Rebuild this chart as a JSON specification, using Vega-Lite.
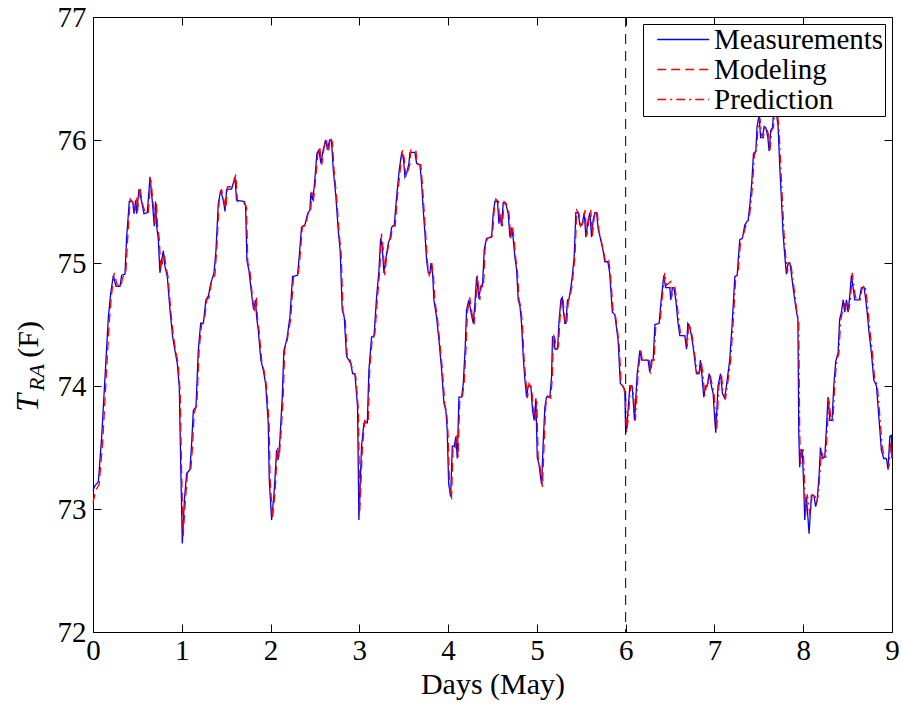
{
  "$schema": "https://vega.github.io/schema/vega-lite/v6.json",
  "width": 799,
  "height": 615,
  "autosize": "none",
  "padding": {"left": 93, "top": 17, "right": 11, "bottom": 76},
  "background": "white",
  "config": {
    "view": {"stroke": "black", "strokeWidth": 1},
    "font": "Liberation Serif",
    "axis": {
      "domainColor": "black", "tickColor": "black", "labelColor": "black", "titleColor": "black",
      "labelFont": "Liberation Serif", "titleFont": "Liberation Serif",
      "labelFontSize": 29, "titleFontSize": 30, "titleFontWeight": "normal",
      "grid": false, "tickSize": -8, "tickWidth": 1, "domainWidth": 1,
      "labelFlush": false, "labelOverlap": false
    }
  },
  "resolve": {"axis": {"x": "independent", "y": "independent"}},
  "layer": [
    {
      "data": {"values": [
        {"series":"Measurements","day":0.0,"T":73.15},{"series":"Measurements","day":0.022,"T":73.19},{"series":"Measurements","day":0.06,"T":73.22},{"series":"Measurements","day":0.098,"T":73.59},{"series":"Measurements","day":0.135,"T":74.07},{"series":"Measurements","day":0.173,"T":74.56},{"series":"Measurements","day":0.199,"T":74.75},{"series":"Measurements","day":0.229,"T":74.9},{"series":"Measurements","day":0.259,"T":74.81},{"series":"Measurements","day":0.304,"T":74.81},{"series":"Measurements","day":0.323,"T":74.9},{"series":"Measurements","day":0.36,"T":74.91},{"series":"Measurements","day":0.379,"T":75.21},{"series":"Measurements","day":0.409,"T":75.5},{"series":"Measurements","day":0.447,"T":75.5},{"series":"Measurements","day":0.462,"T":75.4},{"series":"Measurements","day":0.48,"T":75.51},{"series":"Measurements","day":0.492,"T":75.4},{"series":"Measurements","day":0.518,"T":75.6},{"series":"Measurements","day":0.548,"T":75.5},{"series":"Measurements","day":0.574,"T":75.4},{"series":"Measurements","day":0.612,"T":75.41},{"series":"Measurements","day":0.642,"T":75.7},{"series":"Measurements","day":0.668,"T":75.5},{"series":"Measurements","day":0.69,"T":75.3},{"series":"Measurements","day":0.705,"T":75.5},{"series":"Measurements","day":0.717,"T":75.3},{"series":"Measurements","day":0.736,"T":75.19},{"series":"Measurements","day":0.754,"T":74.92},{"series":"Measurements","day":0.773,"T":75.02},{"series":"Measurements","day":0.792,"T":75.1},{"series":"Measurements","day":0.811,"T":74.97},{"series":"Measurements","day":0.837,"T":74.89},{"series":"Measurements","day":0.867,"T":74.62},{"series":"Measurements","day":0.897,"T":74.4},{"series":"Measurements","day":0.923,"T":74.29},{"series":"Measurements","day":0.95,"T":74.18},{"series":"Measurements","day":0.972,"T":73.99},{"series":"Measurements","day":0.987,"T":73.4},{"series":"Measurements","day":1.006,"T":72.72},{"series":"Measurements","day":1.029,"T":73.07},{"series":"Measurements","day":1.055,"T":73.29},{"series":"Measurements","day":1.092,"T":73.32},{"series":"Measurements","day":1.111,"T":73.53},{"series":"Measurements","day":1.13,"T":73.8},{"series":"Measurements","day":1.16,"T":73.83},{"series":"Measurements","day":1.186,"T":74.29},{"series":"Measurements","day":1.213,"T":74.51},{"series":"Measurements","day":1.243,"T":74.51},{"series":"Measurements","day":1.272,"T":74.7},{"series":"Measurements","day":1.299,"T":74.73},{"series":"Measurements","day":1.325,"T":74.83},{"series":"Measurements","day":1.363,"T":74.92},{"series":"Measurements","day":1.385,"T":75.1},{"series":"Measurements","day":1.411,"T":75.48},{"series":"Measurements","day":1.438,"T":75.59},{"series":"Measurements","day":1.468,"T":75.51},{"series":"Measurements","day":1.487,"T":75.42},{"series":"Measurements","day":1.505,"T":75.6},{"series":"Measurements","day":1.516,"T":75.6},{"series":"Measurements","day":1.561,"T":75.6},{"series":"Measurements","day":1.58,"T":75.65},{"series":"Measurements","day":1.599,"T":75.7},{"series":"Measurements","day":1.617,"T":75.51},{"series":"Measurements","day":1.704,"T":75.5},{"series":"Measurements","day":1.719,"T":75.46},{"series":"Measurements","day":1.734,"T":75.02},{"series":"Measurements","day":1.756,"T":74.94},{"series":"Measurements","day":1.786,"T":74.75},{"series":"Measurements","day":1.809,"T":74.62},{"series":"Measurements","day":1.831,"T":74.7},{"series":"Measurements","day":1.843,"T":74.56},{"series":"Measurements","day":1.861,"T":74.46},{"series":"Measurements","day":1.891,"T":74.21},{"series":"Measurements","day":1.918,"T":74.13},{"series":"Measurements","day":1.944,"T":74.02},{"series":"Measurements","day":1.974,"T":73.7},{"series":"Measurements","day":1.985,"T":73.24},{"series":"Measurements","day":2.012,"T":72.91},{"series":"Measurements","day":2.042,"T":73.15},{"series":"Measurements","day":2.068,"T":73.48},{"series":"Measurements","day":2.087,"T":73.4},{"series":"Measurements","day":2.105,"T":73.56},{"series":"Measurements","day":2.132,"T":73.91},{"series":"Measurements","day":2.15,"T":74.29},{"series":"Measurements","day":2.173,"T":74.35},{"series":"Measurements","day":2.188,"T":74.4},{"series":"Measurements","day":2.218,"T":74.56},{"series":"Measurements","day":2.248,"T":74.89},{"series":"Measurements","day":2.304,"T":74.9},{"series":"Measurements","day":2.319,"T":75.02},{"series":"Measurements","day":2.349,"T":75.29},{"series":"Measurements","day":2.387,"T":75.31},{"series":"Measurements","day":2.417,"T":75.4},{"series":"Measurements","day":2.443,"T":75.43},{"series":"Measurements","day":2.454,"T":75.57},{"series":"Measurements","day":2.473,"T":75.51},{"series":"Measurements","day":2.492,"T":75.62},{"series":"Measurements","day":2.522,"T":75.89},{"series":"Measurements","day":2.545,"T":75.92},{"series":"Measurements","day":2.567,"T":75.81},{"series":"Measurements","day":2.593,"T":75.92},{"series":"Measurements","day":2.62,"T":76.0},{"series":"Measurements","day":2.642,"T":75.92},{"series":"Measurements","day":2.665,"T":76.0},{"series":"Measurements","day":2.687,"T":75.99},{"series":"Measurements","day":2.706,"T":75.76},{"series":"Measurements","day":2.736,"T":75.54},{"series":"Measurements","day":2.762,"T":75.27},{"series":"Measurements","day":2.785,"T":75.09},{"series":"Measurements","day":2.807,"T":74.62},{"series":"Measurements","day":2.83,"T":74.56},{"series":"Measurements","day":2.856,"T":74.24},{"series":"Measurements","day":2.882,"T":74.21},{"series":"Measurements","day":2.905,"T":74.18},{"series":"Measurements","day":2.924,"T":74.1},{"series":"Measurements","day":2.95,"T":74.1},{"series":"Measurements","day":2.98,"T":73.83},{"series":"Measurements","day":2.995,"T":72.91},{"series":"Measurements","day":3.025,"T":73.51},{"series":"Measurements","day":3.052,"T":73.7},{"series":"Measurements","day":3.09,"T":73.7},{"series":"Measurements","day":3.108,"T":74.13},{"series":"Measurements","day":3.138,"T":74.4},{"series":"Measurements","day":3.165,"T":74.4},{"series":"Measurements","day":3.195,"T":74.73},{"series":"Measurements","day":3.221,"T":74.94},{"series":"Measurements","day":3.24,"T":75.2},{"series":"Measurements","day":3.258,"T":75.13},{"series":"Measurements","day":3.277,"T":74.92},{"series":"Measurements","day":3.296,"T":75.02},{"series":"Measurements","day":3.326,"T":75.16},{"series":"Measurements","day":3.345,"T":75.2},{"series":"Measurements","day":3.364,"T":75.29},{"series":"Measurements","day":3.394,"T":75.31},{"series":"Measurements","day":3.42,"T":75.54},{"series":"Measurements","day":3.45,"T":75.76},{"series":"Measurements","day":3.476,"T":75.89},{"series":"Measurements","day":3.495,"T":75.86},{"series":"Measurements","day":3.514,"T":75.7},{"series":"Measurements","day":3.533,"T":75.73},{"series":"Measurements","day":3.559,"T":75.81},{"series":"Measurements","day":3.57,"T":75.9},{"series":"Measurements","day":3.626,"T":75.9},{"series":"Measurements","day":3.645,"T":75.81},{"series":"Measurements","day":3.683,"T":75.8},{"series":"Measurements","day":3.701,"T":75.65},{"series":"Measurements","day":3.72,"T":75.43},{"series":"Measurements","day":3.739,"T":75.24},{"series":"Measurements","day":3.758,"T":75.02},{"series":"Measurements","day":3.777,"T":74.92},{"series":"Measurements","day":3.795,"T":74.92},{"series":"Measurements","day":3.807,"T":75.0},{"series":"Measurements","day":3.825,"T":74.92},{"series":"Measurements","day":3.84,"T":74.7},{"series":"Measurements","day":3.87,"T":74.56},{"series":"Measurements","day":3.9,"T":74.35},{"series":"Measurements","day":3.927,"T":74.13},{"series":"Measurements","day":3.953,"T":73.86},{"series":"Measurements","day":3.975,"T":73.8},{"series":"Measurements","day":3.99,"T":73.64},{"series":"Measurements","day":4.006,"T":73.21},{"series":"Measurements","day":4.028,"T":73.1},{"series":"Measurements","day":4.047,"T":73.51},{"series":"Measurements","day":4.069,"T":73.51},{"series":"Measurements","day":4.088,"T":73.59},{"series":"Measurements","day":4.103,"T":73.41},{"series":"Measurements","day":4.122,"T":73.91},{"series":"Measurements","day":4.152,"T":73.91},{"series":"Measurements","day":4.171,"T":74.02},{"series":"Measurements","day":4.193,"T":74.32},{"series":"Measurements","day":4.208,"T":74.62},{"series":"Measurements","day":4.234,"T":74.7},{"series":"Measurements","day":4.257,"T":74.6},{"series":"Measurements","day":4.283,"T":74.51},{"series":"Measurements","day":4.302,"T":74.67},{"series":"Measurements","day":4.321,"T":74.89},{"series":"Measurements","day":4.347,"T":74.71},{"series":"Measurements","day":4.366,"T":74.81},{"series":"Measurements","day":4.388,"T":74.82},{"series":"Measurements","day":4.407,"T":75.11},{"series":"Measurements","day":4.433,"T":75.2},{"series":"Measurements","day":4.49,"T":75.21},{"series":"Measurements","day":4.508,"T":75.4},{"series":"Measurements","day":4.527,"T":75.5},{"series":"Measurements","day":4.557,"T":75.5},{"series":"Measurements","day":4.572,"T":75.32},{"series":"Measurements","day":4.587,"T":75.39},{"series":"Measurements","day":4.602,"T":75.3},{"series":"Measurements","day":4.621,"T":75.49},{"series":"Measurements","day":4.647,"T":75.49},{"series":"Measurements","day":4.677,"T":75.4},{"series":"Measurements","day":4.696,"T":75.21},{"series":"Measurements","day":4.715,"T":75.29},{"series":"Measurements","day":4.733,"T":75.2},{"series":"Measurements","day":4.752,"T":75.05},{"series":"Measurements","day":4.771,"T":74.95},{"series":"Measurements","day":4.79,"T":74.7},{"series":"Measurements","day":4.809,"T":74.65},{"series":"Measurements","day":4.827,"T":74.51},{"series":"Measurements","day":4.846,"T":74.24},{"series":"Measurements","day":4.865,"T":74.05},{"series":"Measurements","day":4.884,"T":73.91},{"series":"Measurements","day":4.902,"T":74.0},{"series":"Measurements","day":4.932,"T":74.0},{"series":"Measurements","day":4.951,"T":73.8},{"series":"Measurements","day":4.97,"T":73.72},{"series":"Measurements","day":4.989,"T":73.9},{"series":"Measurements","day":5.004,"T":73.42},{"series":"Measurements","day":5.022,"T":73.37},{"series":"Measurements","day":5.041,"T":73.26},{"series":"Measurements","day":5.053,"T":73.2},{"series":"Measurements","day":5.071,"T":73.54},{"series":"Measurements","day":5.09,"T":73.83},{"series":"Measurements","day":5.109,"T":73.91},{"series":"Measurements","day":5.146,"T":73.91},{"series":"Measurements","day":5.165,"T":74.07},{"series":"Measurements","day":5.176,"T":74.4},{"series":"Measurements","day":5.195,"T":74.4},{"series":"Measurements","day":5.203,"T":74.3},{"series":"Measurements","day":5.233,"T":74.3},{"series":"Measurements","day":5.248,"T":74.51},{"series":"Measurements","day":5.27,"T":74.7},{"series":"Measurements","day":5.285,"T":74.72},{"series":"Measurements","day":5.3,"T":74.6},{"series":"Measurements","day":5.315,"T":74.51},{"series":"Measurements","day":5.327,"T":74.51},{"series":"Measurements","day":5.345,"T":74.7},{"series":"Measurements","day":5.36,"T":74.7},{"series":"Measurements","day":5.383,"T":74.8},{"series":"Measurements","day":5.398,"T":74.89},{"series":"Measurements","day":5.42,"T":75.05},{"series":"Measurements","day":5.439,"T":75.41},{"series":"Measurements","day":5.465,"T":75.41},{"series":"Measurements","day":5.484,"T":75.31},{"series":"Measurements","day":5.51,"T":75.31},{"series":"Measurements","day":5.533,"T":75.41},{"series":"Measurements","day":5.552,"T":75.21},{"series":"Measurements","day":5.578,"T":75.35},{"series":"Measurements","day":5.597,"T":75.41},{"series":"Measurements","day":5.616,"T":75.21},{"series":"Measurements","day":5.634,"T":75.35},{"series":"Measurements","day":5.653,"T":75.41},{"series":"Measurements","day":5.672,"T":75.41},{"series":"Measurements","day":5.69,"T":75.28},{"series":"Measurements","day":5.709,"T":75.22},{"series":"Measurements","day":5.746,"T":75.1},{"series":"Measurements","day":5.765,"T":75.01},{"series":"Measurements","day":5.8,"T":75.01},{"series":"Measurements","day":5.82,"T":74.92},{"series":"Measurements","day":5.85,"T":74.6},{"series":"Measurements","day":5.878,"T":74.58},{"series":"Measurements","day":5.915,"T":74.37},{"series":"Measurements","day":5.94,"T":74.02},{"series":"Measurements","day":5.97,"T":74.0},{"series":"Measurements","day":5.99,"T":73.97},{"series":"Measurements","day":6.0,"T":73.62},{"series":"Measurements","day":6.017,"T":73.7},{"series":"Measurements","day":6.047,"T":74.0},{"series":"Measurements","day":6.073,"T":74.0},{"series":"Measurements","day":6.1,"T":73.72},{"series":"Measurements","day":6.13,"T":74.1},{"series":"Measurements","day":6.16,"T":74.29},{"series":"Measurements","day":6.18,"T":74.21},{"series":"Measurements","day":6.253,"T":74.21},{"series":"Measurements","day":6.272,"T":74.11},{"series":"Measurements","day":6.29,"T":74.21},{"series":"Measurements","day":6.31,"T":74.21},{"series":"Measurements","day":6.33,"T":74.5},{"series":"Measurements","day":6.377,"T":74.51},{"series":"Measurements","day":6.4,"T":74.7},{"series":"Measurements","day":6.43,"T":74.9},{"series":"Measurements","day":6.45,"T":74.8},{"series":"Measurements","day":6.497,"T":74.8},{"series":"Measurements","day":6.508,"T":74.7},{"series":"Measurements","day":6.527,"T":74.8},{"series":"Measurements","day":6.542,"T":74.8},{"series":"Measurements","day":6.565,"T":74.7},{"series":"Measurements","day":6.59,"T":74.51},{"series":"Measurements","day":6.61,"T":74.41},{"series":"Measurements","day":6.666,"T":74.41},{"series":"Measurements","day":6.685,"T":74.3},{"series":"Measurements","day":6.7,"T":74.51},{"series":"Measurements","day":6.72,"T":74.49},{"series":"Measurements","day":6.74,"T":74.41},{"series":"Measurements","day":6.76,"T":74.32},{"series":"Measurements","day":6.797,"T":74.1},{"series":"Measurements","day":6.827,"T":74.1},{"series":"Measurements","day":6.842,"T":74.21},{"series":"Measurements","day":6.86,"T":74.08},{"series":"Measurements","day":6.88,"T":73.91},{"series":"Measurements","day":6.9,"T":74.0},{"series":"Measurements","day":6.918,"T":74.0},{"series":"Measurements","day":6.94,"T":74.1},{"series":"Measurements","day":6.966,"T":74.0},{"series":"Measurements","day":6.985,"T":73.94},{"series":"Measurements","day":7.004,"T":73.72},{"series":"Measurements","day":7.015,"T":73.62},{"series":"Measurements","day":7.04,"T":74.0},{"series":"Measurements","day":7.068,"T":74.1},{"series":"Measurements","day":7.09,"T":73.94},{"series":"Measurements","day":7.116,"T":73.9},{"series":"Measurements","day":7.135,"T":74.0},{"series":"Measurements","day":7.172,"T":74.21},{"series":"Measurements","day":7.2,"T":74.51},{"series":"Measurements","day":7.23,"T":74.89},{"series":"Measurements","day":7.256,"T":74.9},{"series":"Measurements","day":7.285,"T":75.19},{"series":"Measurements","day":7.315,"T":75.2},{"series":"Measurements","day":7.342,"T":75.31},{"series":"Measurements","day":7.38,"T":75.35},{"series":"Measurements","day":7.4,"T":75.48},{"series":"Measurements","day":7.42,"T":75.65},{"series":"Measurements","day":7.44,"T":75.89},{"series":"Measurements","day":7.466,"T":75.91},{"series":"Measurements","day":7.48,"T":76.11},{"series":"Measurements","day":7.503,"T":76.2},{"series":"Measurements","day":7.52,"T":76.02},{"series":"Measurements","day":7.54,"T":76.02},{"series":"Measurements","day":7.56,"T":76.11},{"series":"Measurements","day":7.578,"T":76.1},{"series":"Measurements","day":7.6,"T":76.03},{"series":"Measurements","day":7.616,"T":75.91},{"series":"Measurements","day":7.635,"T":76.08},{"series":"Measurements","day":7.654,"T":76.1},{"series":"Measurements","day":7.668,"T":76.24},{"series":"Measurements","day":7.69,"T":76.27},{"series":"Measurements","day":7.717,"T":76.11},{"series":"Measurements","day":7.736,"T":75.78},{"series":"Measurements","day":7.755,"T":75.51},{"series":"Measurements","day":7.773,"T":75.24},{"series":"Measurements","day":7.79,"T":75.08},{"series":"Measurements","day":7.81,"T":74.91},{"series":"Measurements","day":7.83,"T":75.0},{"series":"Measurements","day":7.85,"T":75.0},{"series":"Measurements","day":7.867,"T":74.91},{"series":"Measurements","day":7.886,"T":74.8},{"series":"Measurements","day":7.916,"T":74.64},{"series":"Measurements","day":7.94,"T":74.54},{"series":"Measurements","day":7.95,"T":73.62},{"series":"Measurements","day":7.96,"T":73.34},{"series":"Measurements","day":7.976,"T":73.48},{"series":"Measurements","day":7.99,"T":73.48},{"series":"Measurements","day":8.006,"T":73.18},{"series":"Measurements","day":8.017,"T":72.91},{"series":"Measurements","day":8.036,"T":73.1},{"series":"Measurements","day":8.066,"T":72.8},{"series":"Measurements","day":8.092,"T":73.11},{"series":"Measurements","day":8.12,"T":73.11},{"series":"Measurements","day":8.14,"T":73.02},{"series":"Measurements","day":8.157,"T":73.07},{"series":"Measurements","day":8.18,"T":73.29},{"series":"Measurements","day":8.194,"T":73.5},{"series":"Measurements","day":8.216,"T":73.41},{"series":"Measurements","day":8.243,"T":73.42},{"series":"Measurements","day":8.26,"T":73.64},{"series":"Measurements","day":8.28,"T":73.91},{"series":"Measurements","day":8.3,"T":73.72},{"series":"Measurements","day":8.325,"T":73.72},{"series":"Measurements","day":8.344,"T":74.0},{"series":"Measurements","day":8.366,"T":74.2},{"series":"Measurements","day":8.393,"T":74.27},{"series":"Measurements","day":8.41,"T":74.54},{"series":"Measurements","day":8.43,"T":74.6},{"series":"Measurements","day":8.45,"T":74.7},{"series":"Measurements","day":8.468,"T":74.6},{"series":"Measurements","day":8.487,"T":74.7},{"series":"Measurements","day":8.505,"T":74.6},{"series":"Measurements","day":8.524,"T":74.73},{"series":"Measurements","day":8.543,"T":74.9},{"series":"Measurements","day":8.562,"T":74.8},{"series":"Measurements","day":8.58,"T":74.7},{"series":"Measurements","day":8.63,"T":74.7},{"series":"Measurements","day":8.656,"T":74.8},{"series":"Measurements","day":8.686,"T":74.8},{"series":"Measurements","day":8.705,"T":74.7},{"series":"Measurements","day":8.72,"T":74.6},{"series":"Measurements","day":8.742,"T":74.43},{"series":"Measurements","day":8.768,"T":74.27},{"series":"Measurements","day":8.795,"T":74.05},{"series":"Measurements","day":8.825,"T":74.0},{"series":"Measurements","day":8.855,"T":73.72},{"series":"Measurements","day":8.88,"T":73.48},{"series":"Measurements","day":8.907,"T":73.41},{"series":"Measurements","day":8.937,"T":73.41},{"series":"Measurements","day":8.956,"T":73.32},{"series":"Measurements","day":8.975,"T":73.59},{"series":"Measurements","day":8.993,"T":73.6},{"series":"Measurements","day":9.0,"T":73.41},
        {"series":"Modeling","day":0.0,"T":73.05},{"series":"Modeling","day":0.03,"T":73.15},{"series":"Modeling","day":0.07,"T":73.2},{"series":"Modeling","day":0.11,"T":73.55},{"series":"Modeling","day":0.145,"T":74.02},{"series":"Modeling","day":0.183,"T":74.52},{"series":"Modeling","day":0.209,"T":74.74},{"series":"Modeling","day":0.239,"T":74.92},{"series":"Modeling","day":0.269,"T":74.83},{"series":"Modeling","day":0.314,"T":74.8},{"series":"Modeling","day":0.333,"T":74.88},{"series":"Modeling","day":0.37,"T":74.92},{"series":"Modeling","day":0.389,"T":75.18},{"series":"Modeling","day":0.419,"T":75.52},{"series":"Modeling","day":0.457,"T":75.48},{"series":"Modeling","day":0.472,"T":75.42},{"series":"Modeling","day":0.49,"T":75.53},{"series":"Modeling","day":0.502,"T":75.42},{"series":"Modeling","day":0.528,"T":75.62},{"series":"Modeling","day":0.558,"T":75.48},{"series":"Modeling","day":0.584,"T":75.42},{"series":"Modeling","day":0.622,"T":75.4},{"series":"Modeling","day":0.652,"T":75.68},{"series":"Modeling","day":0.678,"T":75.48},{"series":"Modeling","day":0.7,"T":75.32},{"series":"Modeling","day":0.715,"T":75.48},{"series":"Modeling","day":0.727,"T":75.3},{"series":"Modeling","day":0.746,"T":75.2},{"series":"Modeling","day":0.764,"T":74.95},{"series":"Modeling","day":0.783,"T":75.0},{"series":"Modeling","day":0.802,"T":75.08},{"series":"Modeling","day":0.821,"T":74.98},{"series":"Modeling","day":0.847,"T":74.88},{"series":"Modeling","day":0.877,"T":74.6},{"series":"Modeling","day":0.907,"T":74.4},{"series":"Modeling","day":0.933,"T":74.28},{"series":"Modeling","day":0.96,"T":74.18},{"series":"Modeling","day":0.982,"T":73.95},{"series":"Modeling","day":0.997,"T":73.35},{"series":"Modeling","day":1.016,"T":72.78},{"series":"Modeling","day":1.039,"T":73.05},{"series":"Modeling","day":1.065,"T":73.3},{"series":"Modeling","day":1.102,"T":73.32},{"series":"Modeling","day":1.121,"T":73.5},{"series":"Modeling","day":1.14,"T":73.78},{"series":"Modeling","day":1.17,"T":73.85},{"series":"Modeling","day":1.196,"T":74.3},{"series":"Modeling","day":1.223,"T":74.5},{"series":"Modeling","day":1.253,"T":74.52},{"series":"Modeling","day":1.282,"T":74.7},{"series":"Modeling","day":1.309,"T":74.72},{"series":"Modeling","day":1.335,"T":74.85},{"series":"Modeling","day":1.373,"T":74.9},{"series":"Modeling","day":1.395,"T":75.12},{"series":"Modeling","day":1.421,"T":75.5},{"series":"Modeling","day":1.448,"T":75.6},{"series":"Modeling","day":1.478,"T":75.5},{"series":"Modeling","day":1.497,"T":75.44},{"series":"Modeling","day":1.515,"T":75.62},{"series":"Modeling","day":1.571,"T":75.62},{"series":"Modeling","day":1.59,"T":75.66},{"series":"Modeling","day":1.609,"T":75.72},{"series":"Modeling","day":1.627,"T":75.5},{"series":"Modeling","day":1.714,"T":75.48},{"series":"Modeling","day":1.729,"T":75.45},{"series":"Modeling","day":1.744,"T":75.0},{"series":"Modeling","day":1.766,"T":74.95},{"series":"Modeling","day":1.796,"T":74.72},{"series":"Modeling","day":1.819,"T":74.6},{"series":"Modeling","day":1.841,"T":74.72},{"series":"Modeling","day":1.853,"T":74.55},{"series":"Modeling","day":1.871,"T":74.45},{"series":"Modeling","day":1.901,"T":74.2},{"series":"Modeling","day":1.928,"T":74.12},{"series":"Modeling","day":1.954,"T":74.0},{"series":"Modeling","day":1.984,"T":73.7},{"series":"Modeling","day":1.995,"T":73.25},{"series":"Modeling","day":2.022,"T":72.92},{"series":"Modeling","day":2.052,"T":73.15},{"series":"Modeling","day":2.078,"T":73.5},{"series":"Modeling","day":2.097,"T":73.42},{"series":"Modeling","day":2.115,"T":73.58},{"series":"Modeling","day":2.142,"T":73.9},{"series":"Modeling","day":2.16,"T":74.3},{"series":"Modeling","day":2.183,"T":74.35},{"series":"Modeling","day":2.198,"T":74.42},{"series":"Modeling","day":2.228,"T":74.55},{"series":"Modeling","day":2.258,"T":74.88},{"series":"Modeling","day":2.314,"T":74.92},{"series":"Modeling","day":2.329,"T":75.02},{"series":"Modeling","day":2.359,"T":75.3},{"series":"Modeling","day":2.397,"T":75.3},{"series":"Modeling","day":2.427,"T":75.42},{"series":"Modeling","day":2.453,"T":75.42},{"series":"Modeling","day":2.464,"T":75.58},{"series":"Modeling","day":2.483,"T":75.5},{"series":"Modeling","day":2.502,"T":75.64},{"series":"Modeling","day":2.532,"T":75.88},{"series":"Modeling","day":2.555,"T":75.94},{"series":"Modeling","day":2.577,"T":75.8},{"series":"Modeling","day":2.603,"T":75.94},{"series":"Modeling","day":2.63,"T":76.0},{"series":"Modeling","day":2.652,"T":75.9},{"series":"Modeling","day":2.675,"T":76.02},{"series":"Modeling","day":2.697,"T":75.98},{"series":"Modeling","day":2.716,"T":75.75},{"series":"Modeling","day":2.746,"T":75.52},{"series":"Modeling","day":2.772,"T":75.25},{"series":"Modeling","day":2.795,"T":75.08},{"series":"Modeling","day":2.817,"T":74.6},{"series":"Modeling","day":2.84,"T":74.56},{"series":"Modeling","day":2.866,"T":74.22},{"series":"Modeling","day":2.892,"T":74.22},{"series":"Modeling","day":2.915,"T":74.16},{"series":"Modeling","day":2.934,"T":74.1},{"series":"Modeling","day":2.96,"T":74.08},{"series":"Modeling","day":2.99,"T":73.8},{"series":"Modeling","day":3.005,"T":72.98},{"series":"Modeling","day":3.035,"T":73.5},{"series":"Modeling","day":3.062,"T":73.72},{"series":"Modeling","day":3.1,"T":73.7},{"series":"Modeling","day":3.118,"T":74.15},{"series":"Modeling","day":3.148,"T":74.4},{"series":"Modeling","day":3.175,"T":74.42},{"series":"Modeling","day":3.205,"T":74.72},{"series":"Modeling","day":3.231,"T":74.95},{"series":"Modeling","day":3.25,"T":75.24},{"series":"Modeling","day":3.268,"T":75.12},{"series":"Modeling","day":3.287,"T":74.9},{"series":"Modeling","day":3.306,"T":75.04},{"series":"Modeling","day":3.336,"T":75.18},{"series":"Modeling","day":3.355,"T":75.2},{"series":"Modeling","day":3.374,"T":75.3},{"series":"Modeling","day":3.404,"T":75.3},{"series":"Modeling","day":3.43,"T":75.55},{"series":"Modeling","day":3.46,"T":75.75},{"series":"Modeling","day":3.486,"T":75.92},{"series":"Modeling","day":3.505,"T":75.85},{"series":"Modeling","day":3.524,"T":75.7},{"series":"Modeling","day":3.543,"T":75.74},{"series":"Modeling","day":3.569,"T":75.8},{"series":"Modeling","day":3.58,"T":75.92},{"series":"Modeling","day":3.636,"T":75.92},{"series":"Modeling","day":3.655,"T":75.8},{"series":"Modeling","day":3.693,"T":75.8},{"series":"Modeling","day":3.711,"T":75.64},{"series":"Modeling","day":3.73,"T":75.42},{"series":"Modeling","day":3.749,"T":75.22},{"series":"Modeling","day":3.768,"T":75.0},{"series":"Modeling","day":3.787,"T":74.9},{"series":"Modeling","day":3.805,"T":74.93},{"series":"Modeling","day":3.817,"T":75.0},{"series":"Modeling","day":3.835,"T":74.9},{"series":"Modeling","day":3.85,"T":74.7},{"series":"Modeling","day":3.88,"T":74.55},{"series":"Modeling","day":3.91,"T":74.33},{"series":"Modeling","day":3.937,"T":74.12},{"series":"Modeling","day":3.963,"T":73.85},{"series":"Modeling","day":3.985,"T":73.78},{"series":"Modeling","day":4.0,"T":73.6},{"series":"Modeling","day":4.016,"T":73.18},{"series":"Modeling","day":4.038,"T":73.08},{"series":"Modeling","day":4.057,"T":73.52},{"series":"Modeling","day":4.079,"T":73.5},{"series":"Modeling","day":4.098,"T":73.6},{"series":"Modeling","day":4.113,"T":73.42},{"series":"Modeling","day":4.132,"T":73.9},{"series":"Modeling","day":4.162,"T":73.92},{"series":"Modeling","day":4.181,"T":74.02},{"series":"Modeling","day":4.203,"T":74.33},{"series":"Modeling","day":4.218,"T":74.6},{"series":"Modeling","day":4.244,"T":74.72},{"series":"Modeling","day":4.267,"T":74.6},{"series":"Modeling","day":4.293,"T":74.5},{"series":"Modeling","day":4.312,"T":74.68},{"series":"Modeling","day":4.331,"T":74.9},{"series":"Modeling","day":4.357,"T":74.7},{"series":"Modeling","day":4.376,"T":74.82},{"series":"Modeling","day":4.398,"T":74.8},{"series":"Modeling","day":4.417,"T":75.12},{"series":"Modeling","day":4.443,"T":75.2},{"series":"Modeling","day":4.5,"T":75.22},{"series":"Modeling","day":4.518,"T":75.42},{"series":"Modeling","day":4.537,"T":75.52},{"series":"Modeling","day":4.567,"T":75.5},{"series":"Modeling","day":4.582,"T":75.33},{"series":"Modeling","day":4.597,"T":75.4},{"series":"Modeling","day":4.612,"T":75.3},{"series":"Modeling","day":4.631,"T":75.5},{"series":"Modeling","day":4.657,"T":75.48},{"series":"Modeling","day":4.687,"T":75.4},{"series":"Modeling","day":4.706,"T":75.2},{"series":"Modeling","day":4.725,"T":75.3},{"series":"Modeling","day":4.743,"T":75.2},{"series":"Modeling","day":4.762,"T":75.04},{"series":"Modeling","day":4.781,"T":74.93},{"series":"Modeling","day":4.8,"T":74.7},{"series":"Modeling","day":4.819,"T":74.64},{"series":"Modeling","day":4.837,"T":74.5},{"series":"Modeling","day":4.856,"T":74.22},{"series":"Modeling","day":4.875,"T":74.05},{"series":"Modeling","day":4.894,"T":73.9},{"series":"Modeling","day":4.912,"T":74.02},{"series":"Modeling","day":4.942,"T":73.98},{"series":"Modeling","day":4.961,"T":73.8},{"series":"Modeling","day":4.98,"T":73.72},{"series":"Modeling","day":4.999,"T":73.88},{"series":"Modeling","day":5.014,"T":73.42},{"series":"Modeling","day":5.032,"T":73.36},{"series":"Modeling","day":5.051,"T":73.25},{"series":"Modeling","day":5.063,"T":73.18},{"series":"Modeling","day":5.081,"T":73.52},{"series":"Modeling","day":5.1,"T":73.84},{"series":"Modeling","day":5.119,"T":73.92},{"series":"Modeling","day":5.156,"T":73.9},{"series":"Modeling","day":5.175,"T":74.08},{"series":"Modeling","day":5.186,"T":74.42},{"series":"Modeling","day":5.205,"T":74.38},{"series":"Modeling","day":5.213,"T":74.3},{"series":"Modeling","day":5.243,"T":74.32},{"series":"Modeling","day":5.258,"T":74.52},{"series":"Modeling","day":5.28,"T":74.72},{"series":"Modeling","day":5.295,"T":74.7},{"series":"Modeling","day":5.31,"T":74.58},{"series":"Modeling","day":5.325,"T":74.5},{"series":"Modeling","day":5.337,"T":74.52},{"series":"Modeling","day":5.355,"T":74.7},{"series":"Modeling","day":5.37,"T":74.72},{"series":"Modeling","day":5.393,"T":74.8},{"series":"Modeling","day":5.408,"T":74.9},{"series":"Modeling","day":5.43,"T":75.06},{"series":"Modeling","day":5.449,"T":75.43},{"series":"Modeling","day":5.475,"T":75.4},{"series":"Modeling","day":5.494,"T":75.3},{"series":"Modeling","day":5.52,"T":75.33},{"series":"Modeling","day":5.543,"T":75.43},{"series":"Modeling","day":5.562,"T":75.22},{"series":"Modeling","day":5.588,"T":75.36},{"series":"Modeling","day":5.607,"T":75.43},{"series":"Modeling","day":5.626,"T":75.22},{"series":"Modeling","day":5.644,"T":75.36},{"series":"Modeling","day":5.663,"T":75.43},{"series":"Modeling","day":5.682,"T":75.4},{"series":"Modeling","day":5.7,"T":75.26},{"series":"Modeling","day":5.719,"T":75.2},{"series":"Modeling","day":5.756,"T":75.08},{"series":"Modeling","day":5.775,"T":75.0},{"series":"Modeling","day":5.81,"T":75.02},{"series":"Modeling","day":5.83,"T":74.9},{"series":"Modeling","day":5.86,"T":74.6},{"series":"Modeling","day":5.888,"T":74.56},{"series":"Modeling","day":5.925,"T":74.35},{"series":"Modeling","day":5.95,"T":74.02},{"series":"Modeling","day":5.98,"T":73.98},{"series":"Modeling","day":6.0,"T":73.9},
        {"series":"Prediction","day":6.0,"T":73.9},{"series":"Prediction","day":6.01,"T":73.62},{"series":"Prediction","day":6.027,"T":73.72},{"series":"Prediction","day":6.057,"T":74.0},{"series":"Prediction","day":6.083,"T":73.98},{"series":"Prediction","day":6.11,"T":73.72},{"series":"Prediction","day":6.14,"T":74.1},{"series":"Prediction","day":6.17,"T":74.3},{"series":"Prediction","day":6.19,"T":74.2},{"series":"Prediction","day":6.263,"T":74.22},{"series":"Prediction","day":6.282,"T":74.1},{"series":"Prediction","day":6.3,"T":74.22},{"series":"Prediction","day":6.32,"T":74.2},{"series":"Prediction","day":6.34,"T":74.5},{"series":"Prediction","day":6.387,"T":74.52},{"series":"Prediction","day":6.41,"T":74.7},{"series":"Prediction","day":6.44,"T":74.92},{"series":"Prediction","day":6.46,"T":74.82},{"series":"Prediction","day":6.507,"T":74.85},{"series":"Prediction","day":6.518,"T":74.72},{"series":"Prediction","day":6.537,"T":74.8},{"series":"Prediction","day":6.552,"T":74.82},{"series":"Prediction","day":6.575,"T":74.7},{"series":"Prediction","day":6.6,"T":74.52},{"series":"Prediction","day":6.62,"T":74.42},{"series":"Prediction","day":6.676,"T":74.4},{"series":"Prediction","day":6.695,"T":74.32},{"series":"Prediction","day":6.71,"T":74.5},{"series":"Prediction","day":6.73,"T":74.48},{"series":"Prediction","day":6.75,"T":74.4},{"series":"Prediction","day":6.77,"T":74.3},{"series":"Prediction","day":6.807,"T":74.1},{"series":"Prediction","day":6.837,"T":74.12},{"series":"Prediction","day":6.852,"T":74.2},{"series":"Prediction","day":6.87,"T":74.1},{"series":"Prediction","day":6.89,"T":73.92},{"series":"Prediction","day":6.91,"T":74.0},{"series":"Prediction","day":6.928,"T":74.02},{"series":"Prediction","day":6.95,"T":74.1},{"series":"Prediction","day":6.976,"T":74.0},{"series":"Prediction","day":6.995,"T":73.95},{"series":"Prediction","day":7.014,"T":73.72},{"series":"Prediction","day":7.025,"T":73.64},{"series":"Prediction","day":7.05,"T":74.0},{"series":"Prediction","day":7.078,"T":74.1},{"series":"Prediction","day":7.1,"T":73.94},{"series":"Prediction","day":7.126,"T":73.9},{"series":"Prediction","day":7.145,"T":74.0},{"series":"Prediction","day":7.182,"T":74.2},{"series":"Prediction","day":7.21,"T":74.5},{"series":"Prediction","day":7.24,"T":74.88},{"series":"Prediction","day":7.266,"T":74.92},{"series":"Prediction","day":7.295,"T":75.18},{"series":"Prediction","day":7.325,"T":75.22},{"series":"Prediction","day":7.352,"T":75.3},{"series":"Prediction","day":7.39,"T":75.36},{"series":"Prediction","day":7.41,"T":75.47},{"series":"Prediction","day":7.43,"T":75.64},{"series":"Prediction","day":7.45,"T":75.88},{"series":"Prediction","day":7.476,"T":75.92},{"series":"Prediction","day":7.49,"T":76.1},{"series":"Prediction","day":7.513,"T":76.18},{"series":"Prediction","day":7.53,"T":76.04},{"series":"Prediction","day":7.55,"T":76.02},{"series":"Prediction","day":7.57,"T":76.1},{"series":"Prediction","day":7.588,"T":76.1},{"series":"Prediction","day":7.61,"T":76.04},{"series":"Prediction","day":7.626,"T":75.92},{"series":"Prediction","day":7.645,"T":76.08},{"series":"Prediction","day":7.664,"T":76.1},{"series":"Prediction","day":7.678,"T":76.22},{"series":"Prediction","day":7.7,"T":76.28},{"series":"Prediction","day":7.727,"T":76.1},{"series":"Prediction","day":7.746,"T":75.8},{"series":"Prediction","day":7.765,"T":75.52},{"series":"Prediction","day":7.783,"T":75.25},{"series":"Prediction","day":7.8,"T":75.08},{"series":"Prediction","day":7.82,"T":74.92},{"series":"Prediction","day":7.84,"T":75.0},{"series":"Prediction","day":7.86,"T":75.0},{"series":"Prediction","day":7.877,"T":74.9},{"series":"Prediction","day":7.896,"T":74.8},{"series":"Prediction","day":7.926,"T":74.62},{"series":"Prediction","day":7.95,"T":74.52},{"series":"Prediction","day":7.96,"T":73.65},{"series":"Prediction","day":7.97,"T":73.35},{"series":"Prediction","day":7.986,"T":73.48},{"series":"Prediction","day":8.0,"T":73.5},{"series":"Prediction","day":8.016,"T":73.2},{"series":"Prediction","day":8.027,"T":72.95},{"series":"Prediction","day":8.046,"T":73.12},{"series":"Prediction","day":8.076,"T":72.95},{"series":"Prediction","day":8.102,"T":73.12},{"series":"Prediction","day":8.13,"T":73.12},{"series":"Prediction","day":8.15,"T":73.05},{"series":"Prediction","day":8.167,"T":73.1},{"series":"Prediction","day":8.19,"T":73.3},{"series":"Prediction","day":8.204,"T":73.48},{"series":"Prediction","day":8.226,"T":73.42},{"series":"Prediction","day":8.253,"T":73.42},{"series":"Prediction","day":8.27,"T":73.62},{"series":"Prediction","day":8.29,"T":73.9},{"series":"Prediction","day":8.31,"T":73.74},{"series":"Prediction","day":8.335,"T":73.72},{"series":"Prediction","day":8.354,"T":74.0},{"series":"Prediction","day":8.376,"T":74.2},{"series":"Prediction","day":8.403,"T":74.27},{"series":"Prediction","day":8.42,"T":74.52},{"series":"Prediction","day":8.44,"T":74.6},{"series":"Prediction","day":8.46,"T":74.68},{"series":"Prediction","day":8.478,"T":74.62},{"series":"Prediction","day":8.497,"T":74.68},{"series":"Prediction","day":8.515,"T":74.62},{"series":"Prediction","day":8.534,"T":74.72},{"series":"Prediction","day":8.553,"T":74.92},{"series":"Prediction","day":8.572,"T":74.8},{"series":"Prediction","day":8.59,"T":74.72},{"series":"Prediction","day":8.64,"T":74.7},{"series":"Prediction","day":8.666,"T":74.8},{"series":"Prediction","day":8.696,"T":74.82},{"series":"Prediction","day":8.715,"T":74.72},{"series":"Prediction","day":8.73,"T":74.62},{"series":"Prediction","day":8.752,"T":74.45},{"series":"Prediction","day":8.778,"T":74.28},{"series":"Prediction","day":8.805,"T":74.06},{"series":"Prediction","day":8.835,"T":74.0},{"series":"Prediction","day":8.865,"T":73.74},{"series":"Prediction","day":8.89,"T":73.5},{"series":"Prediction","day":8.917,"T":73.42},{"series":"Prediction","day":8.947,"T":73.4},{"series":"Prediction","day":8.966,"T":73.34},{"series":"Prediction","day":8.985,"T":73.55},{"series":"Prediction","day":9.0,"T":73.42}
      ]},
      "mark": {"type": "line", "interpolate": "linear", "strokeWidth": 1.3},
      "encoding": {
        "x": {"field": "day", "type": "quantitative",
              "scale": {"domain": [0, 9], "nice": false},
              "axis": {"orient": "bottom", "values": [0,1,2,3,4,5,6,7,8,9], "format": "d", "title": "Days (May)", "labelPadding": 12, "titlePadding": 4}},
        "y": {"field": "T", "type": "quantitative",
              "scale": {"domain": [72, 77], "nice": false, "zero": false},
              "axis": {"orient": "left", "values": [72,73,74,75,76,77], "format": "d", "title": null, "labelPadding": 15}},
        "color": {"field": "series", "type": "nominal",
                  "scale": {"domain": ["Measurements", "Modeling", "Prediction"], "range": ["#0000ff", "#ff0000", "#ff0000"]},
                  "legend": {"orient": "top-right", "offset": 7, "title": null,
                    "labelFont": "Liberation Serif", "labelFontSize": 29, "labelColor": "black",
                    "labelExpr": "datum.label + '\u2002'",
                    "symbolType": "M-0.1,0H3.9", "symbolSize": 676, "symbolStrokeWidth": 1.4,
                    "strokeColor": "black", "fillColor": "white", "padding": 1,
                    "rowPadding": -3, "labelOffset": 41, "labelLimit": 400}},
        "strokeDash": {"field": "series", "type": "nominal",
                       "scale": {"domain": ["Measurements", "Modeling", "Prediction"], "range": [[1, 0], [9, 5], [9, 4, 2, 4]]},
                       "legend": {"orient": "top-right", "offset": 7, "title": null,
                    "labelFont": "Liberation Serif", "labelFontSize": 29, "labelColor": "black",
                    "labelExpr": "datum.label + '\u2002'",
                    "symbolType": "M-0.1,0H3.9", "symbolSize": 676, "symbolStrokeWidth": 1.4,
                    "strokeColor": "black", "fillColor": "white", "padding": 1,
                    "rowPadding": -3, "labelOffset": 41, "labelLimit": 400}}
      }
    },
    {
      "data": {"values": [{"day": 6}]},
      "mark": {"type": "rule", "color": "black", "strokeWidth": 1, "strokeDash": [10, 7]},
      "encoding": {"x": {"field": "day", "type": "quantitative", "scale": {"domain": [0, 9], "nice": false}, "axis": null}}
    },
    {
      "data": {"values": [{"day": -0.62, "T": 73.79, "txt": "T"}]},
      "mark": {"type": "text", "angle": 270, "align": "left", "baseline": "alphabetic", "font": "Liberation Serif", "fontStyle": "italic", "fontSize": 32, "color": "black"},
      "encoding": {
        "x": {"field": "day", "type": "quantitative", "scale": {"domain": [0, 9], "nice": false}, "axis": null},
        "y": {"field": "T", "type": "quantitative", "scale": {"domain": [72, 77], "nice": false, "zero": false}, "axis": null},
        "text": {"field": "txt"}
      }
    },
    {
      "data": {"values": [{"day": -0.55, "T": 73.96, "txt": "RA"}]},
      "mark": {"type": "text", "angle": 270, "align": "left", "baseline": "alphabetic", "font": "Liberation Serif", "fontStyle": "italic", "fontSize": 22, "color": "black"},
      "encoding": {
        "x": {"field": "day", "type": "quantitative", "scale": {"domain": [0, 9], "nice": false}, "axis": null},
        "y": {"field": "T", "type": "quantitative", "scale": {"domain": [72, 77], "nice": false, "zero": false}, "axis": null},
        "text": {"field": "txt"}
      }
    },
    {
      "data": {"values": [{"day": -0.62, "T": 74.23, "txt": "(F)"}]},
      "mark": {"type": "text", "angle": 270, "align": "left", "baseline": "alphabetic", "font": "Liberation Serif", "fontSize": 30, "color": "black"},
      "encoding": {
        "x": {"field": "day", "type": "quantitative", "scale": {"domain": [0, 9], "nice": false},
              "axis": {"orient": "top", "values": [0,1,2,3,4,5,6,7,8,9], "labels": false, "title": null, "domain": false}},
        "y": {"field": "T", "type": "quantitative", "scale": {"domain": [72, 77], "nice": false, "zero": false},
              "axis": {"orient": "right", "values": [72,73,74,75,76,77], "labels": false, "title": null, "domain": false}},
        "text": {"field": "txt"}
      }
    }
  ]
}
